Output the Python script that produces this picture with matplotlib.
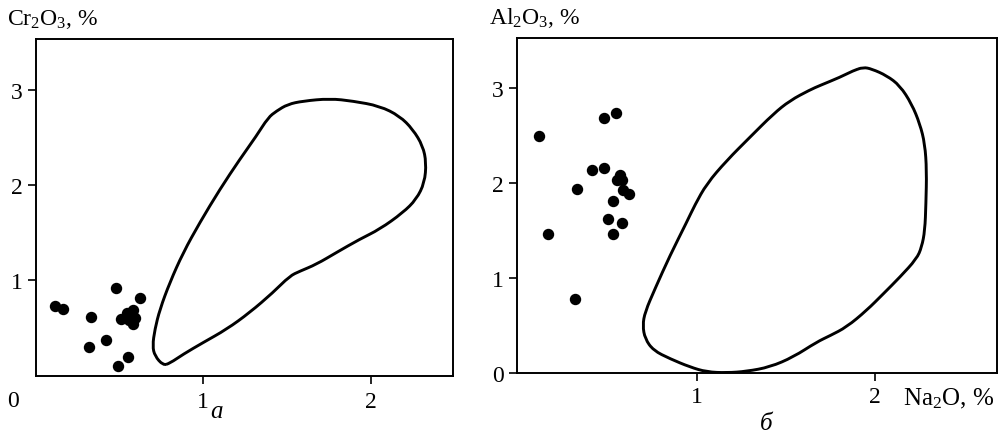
import numpy as np
import matplotlib
matplotlib.use("Agg")
import matplotlib.pyplot as plt
from matplotlib.path import Path
from matplotlib.patches import PathPatch

plt.rcParams["font.family"] = ["Liberation Serif", "DejaVu Serif"]
plt.rcParams["mathtext.fontset"] = "custom"
plt.rcParams["mathtext.rm"] = "Liberation Serif"
plt.rcParams["mathtext.it"] = "Liberation Serif:italic"

FS = 17

# --- panel a: Na2O vs Cr2O3 -------------------------------------------
a_na2o = [0.116, 0.162, 0.330, 0.478, 0.621, 0.318, 0.422, 0.553, 0.490,
          0.509, 0.547, 0.583, 0.593, 0.557, 0.581]
a_cr2o3 = [0.730, 0.703, 0.615, 0.923, 0.818, 0.304, 0.377, 0.191, 0.097,
           0.590, 0.661, 0.688, 0.608, 0.585, 0.538]

# outline of the reference field, panel a
a_field_x = [0.761, 0.712, 0.698, 0.712, 0.742, 0.801, 0.881, 0.980, 1.100,
             1.219, 1.318, 1.388, 1.438, 1.505, 1.596, 1.756, 1.894, 2.054,
             2.173, 2.252, 2.312, 2.332, 2.322, 2.273, 2.193, 2.054, 1.934,
             1.795, 1.676, 1.577, 1.517, 1.417, 1.278, 1.140, 1.000, 0.881,
             0.801]
a_field_y = [0.107, 0.205, 0.310, 0.485, 0.695, 0.976, 1.291, 1.606, 1.956,
             2.271, 2.516, 2.709, 2.778, 2.849, 2.883, 2.909, 2.883, 2.831,
             2.726, 2.586, 2.411, 2.236, 2.026, 1.851, 1.711, 1.536, 1.431,
             1.291, 1.168, 1.095, 1.045, 0.871, 0.661, 0.485, 0.346, 0.223,
             0.128]

# --- panel b: Na2O vs Al2O3 -------------------------------------------
b_na2o = [0.116, 0.164, 0.319, 0.329, 0.413, 0.478, 0.482, 0.546, 0.532,
          0.504, 0.583, 0.531, 0.572, 0.555, 0.583, 0.588, 0.620]
b_al2o3 = [2.496, 1.462, 0.783, 1.940, 2.136, 2.157, 2.682, 2.738, 1.814,
           1.622, 1.580, 1.462, 2.084, 2.031, 2.035, 1.927, 1.884]

b_field_x = [1.934, 1.982, 2.066, 2.140, 2.206, 2.252, 2.280, 2.290, 2.286,
             2.280, 2.262, 2.234, 2.140, 2.047, 1.953, 1.841, 1.748, 1.673,
             1.542, 1.411, 1.280, 1.168, 1.056, 0.962, 0.850, 0.757, 0.710,
             0.697, 0.710, 0.766, 0.850, 0.944, 0.990, 1.056, 1.168, 1.299,
             1.430, 1.523, 1.635, 1.692, 1.804, 1.878]
b_field_y = [3.214, 3.196, 3.126, 3.021, 2.829, 2.619, 2.409, 2.129, 1.780,
             1.499, 1.325, 1.203, 1.010, 0.835, 0.660, 0.486, 0.395, 0.328,
             0.171, 0.066, 0.020, 0.005, 0.014, 0.066, 0.153, 0.240, 0.363,
             0.503, 0.643, 0.888, 1.237, 1.588, 1.769, 1.990, 2.234, 2.480,
             2.724, 2.864, 2.976, 3.023, 3.109, 3.178]


def smooth_closed_path(xs, ys):
    """Closed quadratic B-spline path using the vertices as control points."""
    pts = np.column_stack([xs, ys])
    n = len(pts)
    mids = (pts + np.roll(pts, -1, axis=0)) / 2.0
    verts = [mids[-1]]
    codes = [Path.MOVETO]
    for i in range(n):
        verts += [pts[i], mids[i]]
        codes += [Path.CURVE3, Path.CURVE3]
    return Path(verts, codes)


def style_axes(ax):
    for s in ax.spines.values():
        s.set_linewidth(1.4)
    ax.tick_params(axis="both", direction="out", length=6, width=1.2,
                   labelsize=FS, top=False, right=False)


fig = plt.figure(figsize=(10.05, 4.35), dpi=100)
W, H = 1005.0, 435.0

# panel a
ax1 = fig.add_axes([35.6 / W, 1 - 376.5 / H, 417.1 / W, 336.5 / H])
ax1.set_xlim(0, 2.49)
ax1.set_ylim(0, 3.535)
ax1.add_patch(PathPatch(smooth_closed_path(a_field_x, a_field_y),
                        facecolor="none", edgecolor="black", lw=2.1))
ax1.plot(a_na2o, a_cr2o3, "o", color="black", ms=7.2, mec="black")
ax1.set_xticks([1, 2])
ax1.set_yticks([1, 2, 3])
style_axes(ax1)
ax1.tick_params(axis="x", pad=5.0)
ax1.tick_params(axis="y", pad=3.0)
ax1.text(-0.054, -0.075, "0", transform=ax1.transAxes, ha="center",
         va="center", fontsize=FS)
ax1.text(-0.068, 1.045, "Cr$_2$O$_3$, %", transform=ax1.transAxes,
         ha="left", va="baseline", fontsize=FS)
ax1.text(0.433, -0.124, "а", transform=ax1.transAxes, ha="center",
         va="baseline", fontsize=FS + 1, style="italic")

# panel b
ax2 = fig.add_axes([516.5 / W, 1 - 374.3 / H, 480.2 / W, 335.0 / H])
ax2.set_xlim(-0.011, 2.683)
ax2.set_ylim(0, 3.518)
ax2.add_patch(PathPatch(smooth_closed_path(b_field_x, b_field_y),
                        facecolor="none", edgecolor="black", lw=2.1))
ax2.plot(b_na2o, b_al2o3, "o", color="black", ms=7.2, mec="black")
ax2.set_xticks([1, 2])
ax2.set_yticks([0, 1, 2, 3])
style_axes(ax2)
ax2.tick_params(axis="x", pad=3.5)
ax2.tick_params(axis="y", pad=3.0)
ax2.text(-0.058, 1.045, "Al$_2$O$_3$, %", transform=ax2.transAxes,
         ha="left", va="baseline", fontsize=FS)
ax2.text(0.805, -0.0916, "Na$_2$O, %", transform=ax2.transAxes,
         ha="left", va="baseline", fontsize=FS + 1)
ax2.text(0.52, -0.166, "б", transform=ax2.transAxes, ha="center",
         va="baseline", fontsize=FS + 1, style="italic")

fig.savefig("out.png", dpi=100)
